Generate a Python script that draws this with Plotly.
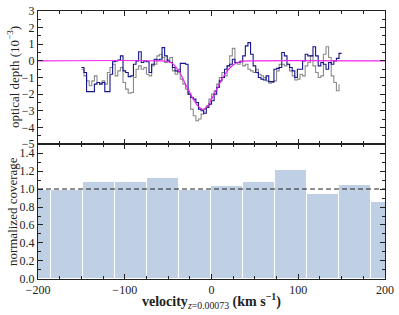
import plotly.graph_objects as go

# ---------------- data ----------------
# spectrum channels (km/s)
blue_vel = list(range(-150, 151, 3))
blue_tau = [
    -0.4, -0.7, -1.85, -1.85, -1.85, -1.4, -1.3, -1.4, -1.3, -1.85,
    -1.85, -0.8, -0.05, 0.0, 0.05, 0.3, -0.6, -0.7, -0.95, -0.9,
    -0.2, 0.0, 0.55, -0.1, 0.0, -0.05, -0.7, -0.2, 0.1, 0.05,
    0.1, 0.8, 0.3, 0.0, -0.1, -0.4, -0.6, -0.65, -0.15, -0.15,
    -0.2, -2.0, -2.2, -2.3, -2.5, -2.9, -3.0, -3.15, -2.8, -2.6,
    -2.4, -2.0, -1.6, -1.2, -1.0, -0.5, -0.3, -0.2, 0.1, -0.1,
    -0.1, -0.05, 0.3, 0.9, 1.1, 0.4, -0.3, -0.7, -1.0, -1.1,
    -1.15, -0.9, -1.25, -1.25, -0.5, -0.45, -0.4, 0.5, 0.3, -0.2,
    -0.4, -0.6, -1.0, -0.5, -0.5, 0.0, 0.4, 0.3, 0.3, 0.85,
    0.3, -0.3, -0.1, -0.2, -0.5, -0.1, -0.2, 0.0, 0.15, 0.45,
    0.45,
]

gray_vel = list(range(-150, 148, 3))
gray_tau = [
    -0.5, -0.9, -1.2, -1.5, -1.2, -0.9, -1.3, -1.35, -1.2, -1.4,
    -0.7, -0.4, -0.2, -0.9, -0.6, -0.4, -1.3, -1.7, -1.95, -1.9,
    -1.0, -0.5, -0.3, -0.5, -0.4, -0.8, -0.9, -0.3, -0.2, 0.3,
    0.4, 0.2, -0.1, 0.1, 0.2, -0.6, -0.8, -0.5, -1.1, -1.4,
    -1.7, -2.0, -2.9, -3.3, -3.6, -3.5, -3.2, -2.9, -2.7, -2.3,
    -2.0, -1.8, -1.4, -1.0, -0.7, -0.9, -0.3, 0.3, 0.75, -0.1,
    -0.2, 0.0, -0.3, -0.2, -0.5, -0.6, -0.7, -0.5, -0.8, -0.9,
    -1.0, -1.2, -1.35, -1.3, -1.2, -0.6, -0.2, -0.2, -0.3, -0.2,
    -0.6, -0.9, -1.15, -1.1, -0.8, -0.9, -0.3, -0.1, 0.3, -0.3,
    -0.7, -1.0, -0.9, 0.4, 0.85, 0.2, -0.9, -1.3, -1.8, -1.4,
]

# model curve
model_vel = [-200, -60, -50, -45, -40, -35, -30, -25, -20, -15, -10, -5,
             0, 5, 10, 15, 20, 25, 30, 35, 45, 200]
model_tau = [0, 0, -0.05, -0.15, -0.45, -0.85, -1.4, -1.9, -2.4, -2.75, -2.92, -2.75,
             -2.3, -1.8, -1.3, -0.85, -0.5, -0.25, -0.1, -0.03, 0, 0]

# coverage histogram
cov_centers = [-202.9, -166.1, -129.3, -92.5, -55.7, -18.9, 17.9, 54.7, 91.5, 128.3, 165.1, 201.9]
cov_width = 36.8
cov_values = [0.99, 0.99, 1.08, 1.08, 1.12, 0.99, 1.03, 1.08, 1.21, 0.95, 1.04, 0.86]

x_ticks = [-200, -100, 0, 100, 200]

# ---------------- figure ----------------
SERIF = "Liberation Serif, DejaVu Serif, serif"
AX = "#222222"
split = 0.5037

FIG_W, FIG_H = 399, 315
ML, MR, MT, MB = 37.5, 13.5, 11, 36
plot_w = FIG_W - ML - MR
plot_h = FIG_H - MT - MB

fig = go.Figure()

fig.add_trace(go.Bar(x=cov_centers, y=cov_values, width=cov_width,
                     marker=dict(color="#bfcfe4", line=dict(color="white", width=1)),
                     xaxis="x2", yaxis="y2", showlegend=False))
fig.add_trace(go.Scatter(x=[-200, 200], y=[1, 1], mode="lines",
                         line=dict(color="#222222", width=1.1, dash="5px,3px"),
                         xaxis="x2", yaxis="y2", showlegend=False))

fig.add_trace(go.Scatter(x=gray_vel, y=gray_tau, mode="lines", line_shape="hv",
                         line=dict(color="#8a8a8a", width=1.1), showlegend=False))
fig.add_trace(go.Scatter(x=blue_vel, y=blue_tau, mode="lines", line_shape="hv",
                         line=dict(color="#14148c", width=1.1), showlegend=False))
fig.add_trace(go.Scatter(x=model_vel, y=model_tau, mode="lines", line_shape="spline",
                         line=dict(color="#f024f0", width=1.2), showlegend=False))

common_axis = dict(showline=True, linecolor=AX, linewidth=1, mirror="ticks",
                   ticks="inside", ticklen=5, tickcolor=AX, tickwidth=1,
                   showgrid=False, zeroline=False,
                   tickfont=dict(family=SERIF, size=12, color=AX))

fig.update_layout(
    width=FIG_W, height=FIG_H,
    margin=dict(l=ML, r=MR, t=MT, b=MB, autoexpand=False),
    paper_bgcolor="white", plot_bgcolor="white",
    bargap=0,
    xaxis=dict(domain=[0, 1], anchor="y", range=[-200, 200], tickvals=x_ticks,
               showticklabels=False,
               minor=dict(ticks="inside", dtick=25, ticklen=3, tickcolor=AX),
               **common_axis),
    yaxis=dict(domain=[split, 1], anchor="x", range=[-5, 3], dtick=1,
               minor=dict(ticks="inside", dtick=0.5, ticklen=3, tickcolor=AX),
               **common_axis),
    xaxis2=dict(domain=[0, 1], anchor="y2", range=[-200, 200], tickvals=x_ticks,
                minor=dict(ticks="inside", dtick=25, ticklen=3, tickcolor=AX),
                **common_axis),
    yaxis2=dict(domain=[0, split], anchor="x2", range=[0, 1.5], dtick=0.2, tickformat=".1f",
                minor=dict(ticks="inside", dtick=0.1, ticklen=3, tickcolor=AX),
                **common_axis),
)

title_font = dict(family=SERIF, size=13, color=AX)
title_x = (12 - ML) / plot_w

fig.add_annotation(text="optical depth (10<sup>−3</sup>)", textangle=-90,
                   xref="paper", yref="paper", x=title_x, y=(1 + split) / 2,
                   xanchor="center", yanchor="middle", showarrow=False, font=title_font)
fig.add_annotation(text="normalized coverage", textangle=-90,
                   xref="paper", yref="paper", x=title_x, y=split / 2,
                   xanchor="center", yanchor="middle", showarrow=False, font=title_font)
fig.add_annotation(text="<b>velocity</b><sub><i>z</i>=0.00073</sub> <b>(km s<sup>−1</sup>)</b>",
                   xref="paper", yref="paper", x=0.5, y=-(301 - (FIG_H - MB)) / plot_h,
                   xanchor="center", yanchor="middle", showarrow=False,
                   font=dict(family=SERIF, size=14, color=AX))

# remove the default page margin so the figure fills the 399x315 window exactly
fig.write_html("out.html",
               config={"displayModeBar": False},
               post_script="document.body.style.margin='0';document.body.style.overflow='hidden';")
